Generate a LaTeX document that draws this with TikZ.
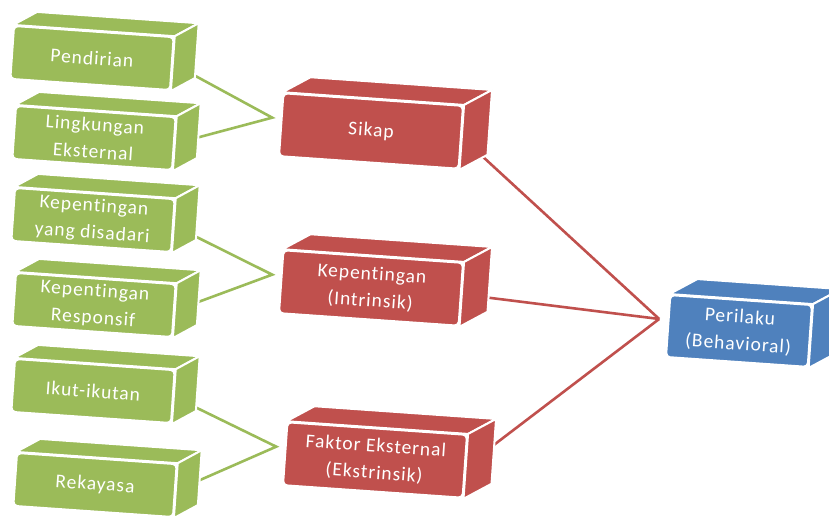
\documentclass[tikz,border=0pt]{standalone}
\usepackage{fontspec}
\setmainfont{Carlito}[LetterSpace=5,Ligatures={NoCommon}]
\usetikzlibrary{calc,backgrounds}
\definecolor{leafgreen}{HTML}{9BBB59}
\definecolor{brickred}{HTML}{C0504D}
\definecolor{steelblue}{HTML}{4F81BD}
\begin{document}
\begin{tikzpicture}[x=1pt,y=-1pt,line width=0.4pt,
  every node/.style={font=\fontsize{19.5}{27}\selectfont,text=white,align=center,inner sep=0pt},
  front/.style={rectangle,rounded corners=4pt,draw=white,line width=2pt,rotate=-4},
  leaf/.style={front,fill=leafgreen,minimum width=160,minimum height=53},
  cause/.style={front,fill=brickred,minimum width=180,minimum height=63},
  result/.style={front,fill=steelblue,minimum width=142,minimum height=62},
  face/.style={draw=white,line width=2pt,line join=round},
  link/.style={line width=2.6pt}]
\useasboundingbox (0,0) rectangle (829,517);
% front faces
\node[leaf] (pend) at (92,58) {Pendirian};
\node[leaf] (ling) at (94,138) {Lingkungan\\Eksternal};
\node[leaf] (kyd) at (93,220) {Kepentingan\\yang disadari};
\node[leaf] (kresp) at (94,305) {Kepentingan\\Responsif};
\node[leaf] (ikut) at (93,391) {Ikut-ikutan};
\node[leaf] (reka) at (95,485) {Rekayasa};
\node[cause] (sikap) at (371,131) {Sikap};
\node[cause] (kep) at (371,288) {Kepentingan\\(Intrinsik)};
\node[cause] (fak) at (375,460) {Faktor Eksternal\\(Ekstrinsik)};
\node[result] (peri) at (739,331) {Perilaku\\(Behavioral)};
% top and side faces
\foreach \n/\c/\dx/\dy in {pend/leafgreen/24/-13,ling/leafgreen/24/-13,kyd/leafgreen/24/-13,
    kresp/leafgreen/24/-13,ikut/leafgreen/24/-13,reka/leafgreen/24/-13,
    sikap/brickred/28/-15,kep/brickred/28/-15,fak/brickred/28/-15,peri/steelblue/28/-15}{
  \filldraw[face,fill=\c] (\n.north west) -- (\n.north east) -- ($(\n.north east)+(\dx,\dy)$)
    -- ($(\n.north west)+(\dx,\dy)$) -- cycle;
  \filldraw[face,fill=\c] (\n.north east) -- ($(\n.north east)+(\dx,\dy)$)
    -- ($(\n.south east)+(\dx,\dy)$) -- (\n.south east) -- cycle;
}
% meeting points
\coordinate (js) at ($(sikap.west)+(-8,-7)$);
\coordinate (jk) at ($(kep.west)+(-8,-7)$);
\coordinate (jf) at ($(fak.west)+(-8,-7)$);
\coordinate (jp) at ($(peri.west)+(-8,-7)$);
\begin{scope}[on background layer]
\draw[link,leafgreen] (pend.east) -- (js) -- (ling.east);
\draw[link,leafgreen] (kyd.east) -- (jk) -- (kresp.east);
\draw[link,leafgreen] (ikut.east) -- (jf) -- (reka.east);
\draw[link,brickred] (sikap.east) -- (jp);
\draw[link,brickred] (kep.east) -- (jp);
\draw[link,brickred] (fak.east) -- (jp);
\end{scope}
\end{tikzpicture}
\end{document}
